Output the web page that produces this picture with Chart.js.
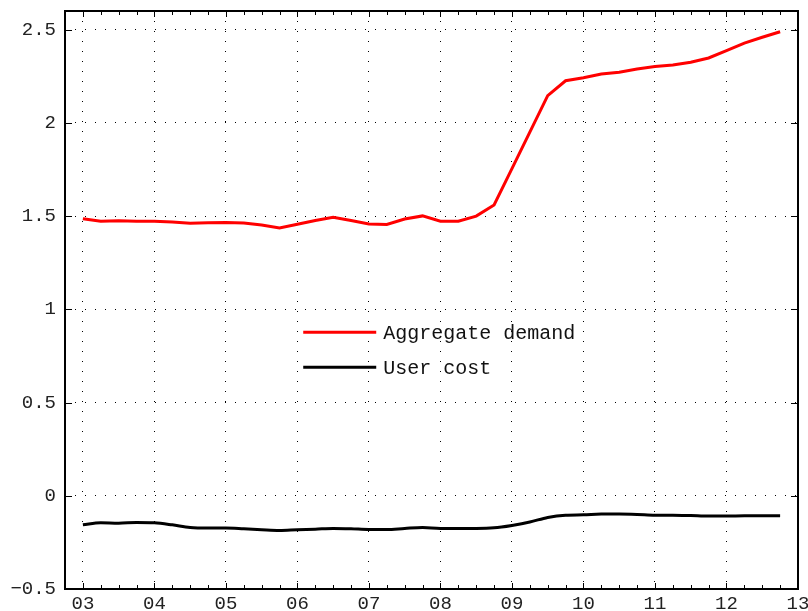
<!DOCTYPE html>
<html>
<head>
<meta charset="utf-8">
<script src="https://cdn.jsdelivr.net/npm/chart.js@4.4.1/dist/chart.umd.min.js"></script>
<style>
  html, body { margin: 0; padding: 0; background: #fff; }
  #wrap { width: 808px; height: 611px; }
</style>
</head>
<body>
<div id="wrap"><canvas id="chart"></canvas></div>
<script>
// quarterly observations, 2003Q1 .. 2012Q4 (in years since 2000)
const quarters = [];
for (let y = 3; y < 13; y++) {
    for (let q = 0; q < 4; q++) quarters.push(y + q * 0.25);
}

const aggregateDemand = [
    1.486, 1.472, 1.475, 1.473, 1.473, 1.468, 1.462, 1.464,
    1.465, 1.463, 1.452, 1.436, 1.456, 1.476, 1.494, 1.476,
    1.458, 1.455, 1.484, 1.501, 1.473, 1.473, 1.500, 1.560,
    1.755, 1.950, 2.146, 2.226, 2.242, 2.262, 2.272, 2.289,
    2.302, 2.310, 2.325, 2.348, 2.387, 2.428, 2.459, 2.489
];

const userCost = [
    -0.156, -0.145, -0.147, -0.143, -0.145, -0.156, -0.170, -0.173,
    -0.173, -0.177, -0.182, -0.186, -0.182, -0.179, -0.175, -0.177,
    -0.181, -0.181, -0.175, -0.170, -0.175, -0.175, -0.175, -0.172,
    -0.159, -0.141, -0.116, -0.104, -0.102, -0.098, -0.098, -0.100,
    -0.104, -0.104, -0.106, -0.109, -0.109, -0.107, -0.107, -0.107
];

const seriesNames = ['Aggregate demand', 'User cost'];
const xTicks = [3, 4, 5, 6, 7, 8, 9, 10, 11, 12, 13];
const xTickLabels = ['03', '04', '05', '06', '07', '08', '09', '10', '11', '12', '13'];
const yTicks = [-0.5, 0, 0.5, 1, 1.5, 2, 2.5];

const FONT = "'Liberation Mono', 'DejaVu Sans Mono', monospace";

// frame, inward ticks and the in-plot legend
const framePlugin = {
    id: 'frame',
    afterDraw(chart) {
        const ctx = chart.ctx;
        const a = chart.chartArea;
        const xs = chart.scales.x, ys = chart.scales.y;
        ctx.save();
        ctx.strokeStyle = '#000';
        ctx.lineWidth = 1;

        // major / minor x ticks, top and bottom
        ctx.beginPath();
        for (let v = 3; v <= 13; v += 0.25) {
            const px = Math.round(xs.getPixelForValue(v)) + 0.5;
            const len = Number.isInteger(v) ? 6 : 4;
            ctx.moveTo(px, a.bottom); ctx.lineTo(px, a.bottom - len);
            ctx.moveTo(px, a.top); ctx.lineTo(px, a.top + len);
        }
        yTicks.forEach(v => {
            const py = Math.round(ys.getPixelForValue(v)) + 0.5;
            ctx.moveTo(a.left, py); ctx.lineTo(a.left + 7, py);
            ctx.moveTo(a.right, py); ctx.lineTo(a.right - 7, py);
        });
        ctx.stroke();

        ctx.lineWidth = 2;
        ctx.strokeRect(a.left, a.top, a.right - a.left, a.bottom - a.top);

        // legend
        const lx = a.left + 0.325 * (a.right - a.left);
        let ly = a.top + 0.556 * (a.bottom - a.top);
        ctx.font = '20px ' + FONT;
        ctx.textBaseline = 'middle';
        ctx.fillStyle = '#111';
        chart.data.datasets.forEach(ds => {
            ctx.strokeStyle = ds.borderColor;
            ctx.lineWidth = 3;
            ctx.beginPath();
            ctx.moveTo(lx, ly); ctx.lineTo(lx + 73, ly);
            ctx.stroke();
            ctx.fillText(ds.label, lx + 80, ly + 1);
            ly += 35;
        });
        ctx.restore();
    }
};

const ctx = document.getElementById('chart').getContext('2d');
new Chart(ctx, {
    type: 'line',
    data: {
        datasets: [
            {
                label: seriesNames[0],
                data: quarters.map((x, i) => ({ x: x, y: aggregateDemand[i] })),
                borderColor: '#ff0000',
                borderWidth: 3,
                pointRadius: 0,
                tension: 0
            },
            {
                label: seriesNames[1],
                data: quarters.map((x, i) => ({ x: x, y: userCost[i] })),
                borderColor: '#000000',
                borderWidth: 3,
                pointRadius: 0,
                cubicInterpolationMode: 'monotone'
            }
        ]
    },
    options: {
        responsive: true,
        maintainAspectRatio: false,
        animation: false,
        layout: { padding: { top: 11, right: 10, left: 0, bottom: 0 } },
        plugins: {
            legend: { display: false },
            tooltip: { enabled: false }
        },
        scales: {
            x: {
                type: 'linear',
                min: 2.75,
                max: 13,
                afterBuildTicks: scale => { scale.ticks = xTicks.map(v => ({ value: v })); },
                afterFit: scale => {
                    scale.height = 22;
                    scale.paddingLeft = 0;
                    scale.paddingRight = 0;
                },
                border: { display: false, dash: [1, 9] },
                grid: {
                    color: '#000',
                    lineWidth: 1,
                    drawTicks: false,
                    tickLength: 0
                },
                ticks: {
                    padding: 4,
                    maxRotation: 0,
                    autoSkip: false,
                    color: '#222',
                    font: { family: FONT, size: 19 },
                    callback: v => xTickLabels[xTicks.indexOf(v)]
                }
            },
            y: {
                min: -0.5,
                max: 2.6,
                afterBuildTicks: scale => { scale.ticks = yTicks.map(v => ({ value: v })); },
                afterFit: scale => {
                    scale.width = 65;
                    scale.paddingTop = 0;
                    scale.paddingBottom = 0;
                },
                border: { display: false, dash: [1, 9] },
                grid: {
                    color: '#000',
                    lineWidth: 1,
                    drawTicks: false,
                    tickLength: 0
                },
                ticks: {
                    padding: 9,
                    color: '#222',
                    font: { family: FONT, size: 19 },
                    callback: v => String(v).replace('-', '\u2212')
                }
            }
        }
    },
    plugins: [framePlugin]
});
</script>
</body>
</html>
